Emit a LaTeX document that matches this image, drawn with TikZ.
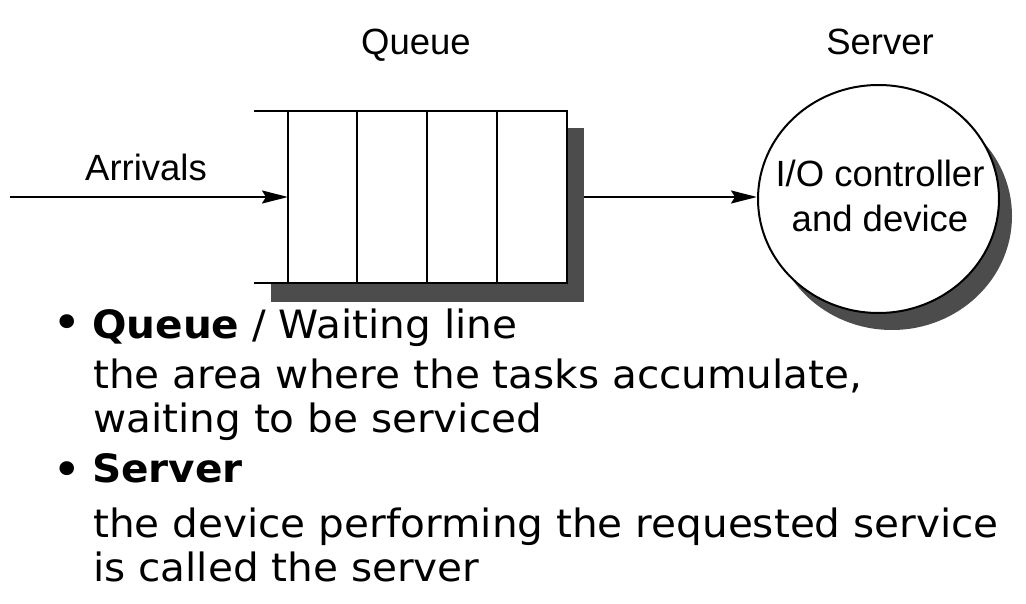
\documentclass[tikz,border=0pt]{standalone}
\usepackage{fontspec}
\setmainfont{Liberation Sans}
\newfontfamily\vfont[FakeStretch=1.04]{DejaVu Sans}
\usetikzlibrary{arrows.meta,shapes.geometric}
\begin{document}
\begin{tikzpicture}[x=1pt,y=-1pt,
  lbl/.style={font=\fontsize{36.5}{40}\selectfont, inner sep=0pt, anchor=base},
  btxt/.style={font=\vfont\fontsize{39}{45}\selectfont, inner sep=0pt, anchor=base west},
  bdot/.style={font=\vfont\fontsize{48}{50}\selectfont, inner sep=0pt, anchor=base west},
  ln/.style={line width=2.6pt},
  arr/.style={line width=2.2pt, -{Stealth[length=26pt,width=13pt,inset=4pt]}}]
\useasboundingbox (0,0) rectangle (1026,604);
% queue shadow and box
\fill[black!70] (271,128) rectangle (584,302);
\fill[white] (254,111) rectangle (567,283);
\node[draw=none, minimum width=279pt, minimum height=172pt, inner sep=0pt] (queue) at (427.5,197) {};
\draw[ln] (254,111) -- (567,111) -- (567,283) -- (254,283);
\draw[ln] (288,111) -- (288,283);
\draw[ln] (357,111) -- (357,283);
\draw[ln] (427,111) -- (427,283);
\draw[ln] (497,111) -- (497,283);
% server
\fill[black!70] (892,216) ellipse [x radius=120, y radius=114];
\node[ellipse, draw, line width=2pt, fill=white, minimum width=241pt, minimum height=228pt, inner sep=0pt] (server) at (878.5,199) {};
\node[lbl] (io1) at (880,187) {I/O controller};
\node[lbl] (io2) at (880,232) {and device};
% labels
\node[lbl] (qlbl) at (416,55) {Queue};
\node[lbl] (slbl) at (880,55) {Server};
\node[lbl] (alb) at (146,181) {Arrivals};
% arrows
\coordinate (start) at (10,197);
\coordinate (qout) at (584,197);
\draw[arr] (start) -- (288,197);
\draw[arr] (qout) -- (server.west |- qout);
% bullets
\node[bdot] (b1) at (52,339) {•};
\node[btxt] (t1) at (92,338) {\textbf{Queue} / Waiting line};
\node[btxt] (t2) at (93,388) {the area where the tasks accumulate,};
\node[btxt] (t3) at (93,432) {waiting to be serviced};
\node[bdot] (b2) at (52,486) {•};
\node[btxt] (t4) at (92,482) {\textbf{Server}};
\node[btxt] (t5) at (93,537) {the device performing the requested service};
\node[btxt] (t6) at (93,581) {is called the server};
\end{tikzpicture}
\end{document}
